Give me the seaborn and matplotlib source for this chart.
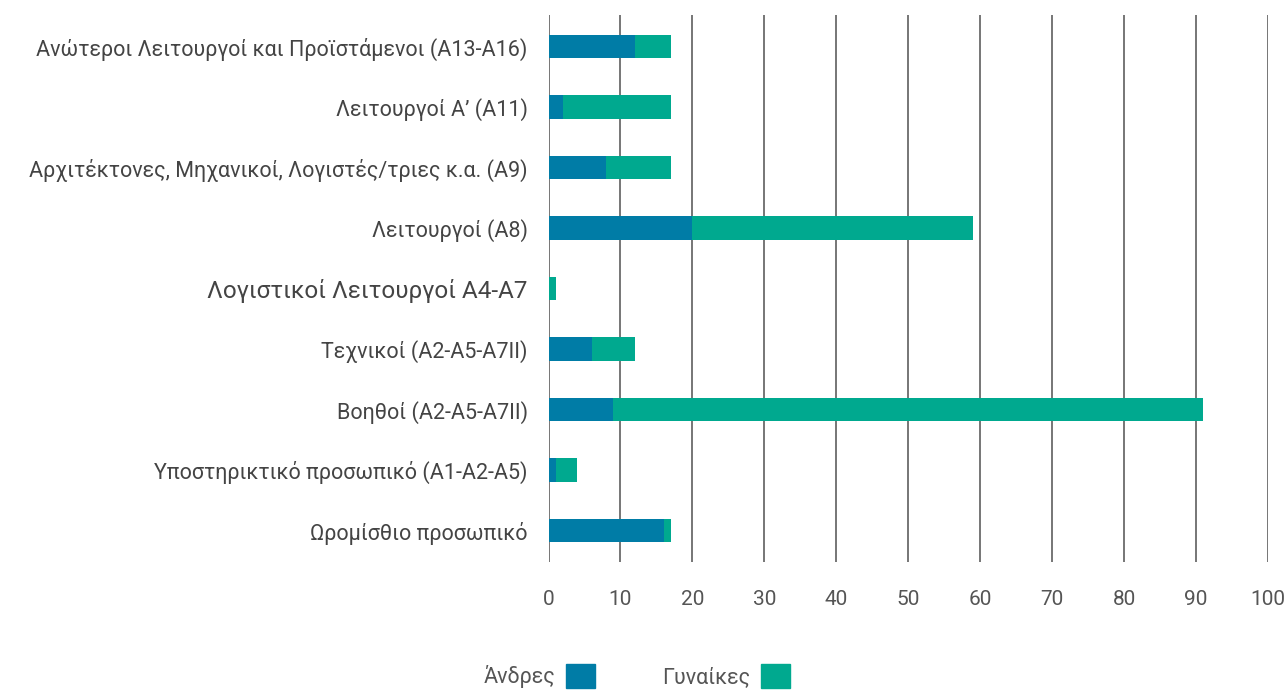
import matplotlib
matplotlib.use("Agg")
import matplotlib.pyplot as plt
import seaborn as sns
import pandas as pd
from matplotlib.patches import Patch

categorias = [
    "Ανώτεροι Λειτουργοί και Προϊστάμενοι (Α13-Α16)",
    "Λειτουργοί Α’ (Α11)",
    "Αρχιτέκτονες, Μηχανικοί, Λογιστές/τριες κ.α. (Α9)",
    "Λειτουργοί (Α8)",
    "Λογιστικοί Λειτουργοί Α4-Α7",
    "Τεχνικοί (Α2-Α5-Α7ΙΙ)",
    "Βοηθοί (Α2-Α5-Α7ΙΙ)",
    "Υποστηρικτικό προσωπικό (Α1-Α2-Α5)",
    "Ωρομίσθιο προσωπικό",
]
andres = [12, 2, 8, 20, 0, 6, 9, 1, 16]
gynaikes = [5, 15, 9, 39, 1, 6, 82, 3, 1]
x_ticks = [0, 10, 20, 30, 40, 50, 60, 70, 80, 90, 100]

color_andres = "#007ca6"
color_gynaikes = "#00a98f"

df = pd.DataFrame({"cat": categorias, "andres": andres, "gynaikes": gynaikes})
df["total"] = df["andres"] + df["gynaikes"]

sns.set_style("white")
plt.rcParams["font.family"] = ["Roboto", "DejaVu Sans"]

fig = plt.figure(figsize=(12.87, 6.90), dpi=100)
ax = fig.add_axes([0.4262, 0.1855, 0.5590, 0.7925])

# stacked bars: total first (women colour), men drawn over it
sns.barplot(data=df, x="total", y="cat", orient="h", color=color_gynaikes,
            width=0.39, ax=ax, saturation=1, linewidth=0)
sns.barplot(data=df, x="andres", y="cat", orient="h", color=color_andres,
            width=0.39, ax=ax, saturation=1, linewidth=0)

ax.set_xlim(0, 100)
ax.set_ylim(8.52, -0.52)
ax.set_xticks(x_ticks)
ax.xaxis.grid(True, color="#6b6b6b", linewidth=1.3)
ax.set_axisbelow(True)
for s in ax.spines.values():
    s.set_visible(False)
ax.set_xlabel("")
ax.set_ylabel("")
ax.tick_params(axis="x", length=0, pad=20, labelsize=15, labelcolor="#555555")
ax.tick_params(axis="y", length=0, pad=15, labelsize=15.5, labelcolor="#444444")
ax.get_yticklabels()[4].set_fontsize(17.5)

handles = [Patch(color=color_andres, label="Άνδρες"),
           Patch(color=color_gynaikes, label="Γυναίκες")]
leg = fig.legend(handles=handles, loc="center", bbox_to_anchor=(0.4946, 0.02),
                 ncol=2, frameon=False, markerfirst=False, fontsize=15.5,
                 handlelength=1.35, handleheight=1.3, columnspacing=3.1,
                 handletextpad=0.5)
for t in leg.get_texts():
    t.set_color("#555555")

fig.savefig("out.png", dpi=100)
